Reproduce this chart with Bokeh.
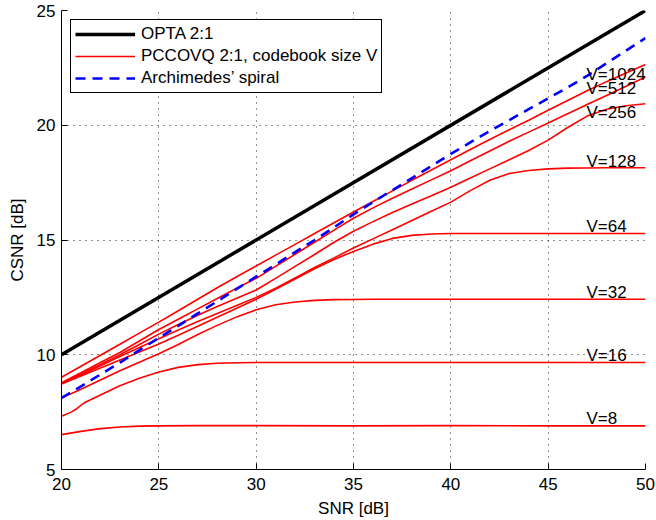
from bokeh.plotting import figure
from bokeh.models import Range1d, FixedTicker, Legend, LegendItem, ColumnDataSource, LabelSet
from bokeh.core.properties import value
from bokeh.embed import file_html
from bokeh.resources import INLINE

FONT = "Liberation Sans"

# ---------------- data ----------------
x_ticks = [20, 25, 30, 35, 40, 45, 50]
y_ticks = [5, 10, 15, 20, 25]

opta_snr = [20, 50]
opta_csnr = [10, 25]

snr = list(range(20, 51))

archimedes = [8.12, 8.62, 9.14, 9.66, 10.2, 10.73, 11.26, 11.8, 12.33, 12.87,
              13.4, 13.93, 14.47, 15.0, 15.55, 16.12, 16.65, 17.17, 17.7, 18.22,
              18.75, 19.25, 19.75, 20.22, 20.7, 21.17, 21.65, 22.15, 22.7, 23.25, 23.8]

v1024 = [9.02, 9.5, 9.98, 10.46, 10.94, 11.42, 11.92, 12.42, 12.92, 13.4,
         13.87, 14.34, 14.81, 15.28, 15.75, 16.22, 16.68, 17.14, 17.6, 18.05,
         18.5, 18.94, 19.38, 19.8, 20.22, 20.65, 21.08, 21.5, 21.9, 22.28, 22.65]

v512 = [8.78, 9.22, 9.66, 10.1, 10.6, 11.1, 11.55, 12.0, 12.45, 12.9,
        13.33, 13.85, 14.38, 14.9, 15.43, 15.95, 16.4, 16.82, 17.22, 17.62,
        18.02, 18.45, 18.88, 19.3, 19.7, 20.1, 20.5, 20.9, 21.3, 21.7, 22.1]

v256 = [8.75, 9.17, 9.58, 10.0, 10.45, 10.9, 11.32, 11.72, 12.1, 12.46,
        12.82, 13.33, 13.85, 14.37, 14.9, 15.38, 15.8, 16.2, 16.57, 16.93,
        17.3, 17.7, 18.1, 18.5, 18.9, 19.35, 19.9, 20.4, 20.7, 20.85, 20.94]

v128 = [8.73, 9.12, 9.52, 9.92, 10.32, 10.7, 11.08, 11.45, 11.8, 12.15,
        12.5, 12.9, 13.35, 13.8, 14.22, 14.65, 15.05, 15.45, 15.85, 16.25,
        16.65, 17.15, 17.6, 17.9, 18.03, 18.1, 18.13, 18.14, 18.15, 18.15, 18.15]

v64 = [8.72, 9.07, 9.42, 9.77, 10.12, 10.47, 10.85, 11.24, 11.63, 12.03,
       12.42, 12.85, 13.3, 13.75, 14.15, 14.5, 14.82, 15.07, 15.2, 15.26,
       15.28, 15.28, 15.28, 15.28, 15.28, 15.28, 15.28, 15.28, 15.28, 15.28, 15.28]

v32 = [8.12, 8.5, 8.9, 9.3, 9.67, 10.04, 10.45, 10.88, 11.28, 11.65,
       11.96, 12.18, 12.3, 12.37, 12.4, 12.41, 12.42, 12.42, 12.42, 12.42,
       12.42, 12.42, 12.42, 12.42, 12.42, 12.42, 12.42, 12.42, 12.42, 12.42, 12.42]

v16_snr = [20, 20.5, 20.8, 21.2, 22, 23, 24, 25, 26, 27, 28, 29, 30, 35, 40, 45, 50]
v16 = [7.32, 7.5, 7.66, 7.92, 8.25, 8.65, 8.98, 9.25, 9.45, 9.57, 9.63, 9.65, 9.66,
       9.66, 9.66, 9.66, 9.66]

v8_snr = [20, 21, 22, 23, 24, 25, 27, 30, 35, 40, 45, 50]
v8 = [6.52, 6.66, 6.78, 6.85, 6.89, 6.9, 6.91, 6.91, 6.9, 6.91, 6.9, 6.9]

label_text = ["V=1024", "V=512", "V=256", "V=128", "V=64", "V=32", "V=16", "V=8"]
label_x = [46.97] * 8
label_y = [21.96, 21.35, 20.31, 18.17, 15.35, 12.48, 9.74, 7.0]

# ---------------- figure ----------------
p = figure(width=656, height=520, x_range=Range1d(20, 50), y_range=Range1d(5, 25),
           output_backend="svg", toolbar_location=None,
           min_border_left=61, min_border_right=11, min_border_top=10,
           min_border_bottom=50)
p.outline_line_color = None
p.background_fill_color = "white"
p.border_fill_color = "white"

for ax, ticks in ((p.xaxis, x_ticks), (p.yaxis, y_ticks)):
    ax.ticker = FixedTicker(ticks=ticks)
    ax.major_tick_in = 6
    ax.major_tick_out = 0
    ax.minor_tick_in = 0
    ax.minor_tick_out = 0
    ax.axis_line_color = "black"
    ax.major_tick_line_color = "black"
    ax.major_label_text_font = FONT
    ax.major_label_text_font_size = "17px"
    ax.major_label_text_color = "black"
    ax.axis_label_text_font = FONT
    ax.axis_label_text_font_size = "17px"
    ax.axis_label_text_font_style = "normal"
    ax.axis_label_text_color = "black"

p.xaxis.axis_label = "SNR [dB]"
p.yaxis.axis_label = "CSNR [dB]"
p.xaxis.major_label_standoff = 8
p.xaxis.axis_label_standoff = 6
p.yaxis.major_label_standoff = 6
p.yaxis.axis_label_standoff = 7

for g in (p.xgrid, p.ygrid):
    g.grid_line_color = "black"
    g.grid_line_alpha = 0.85
    g.grid_line_dash = "1 5"
    g.grid_line_width = 1

r_opta = p.line(opta_snr, opta_csnr, line_color="black", line_width=3.5)

red_kw = dict(line_color="#ff0000", line_width=1.6)
r_reds = []
for ys in (v1024, v512, v256, v128, v64, v32):
    r_reds.append(p.line(snr, ys, **red_kw))
r_reds.append(p.line(v16_snr, v16, **red_kw))
r_reds.append(p.line(v8_snr, v8, **red_kw))

r_arch = p.line(snr, archimedes, line_color="#0000ff", line_width=2.6, line_dash="10 7")

lab_src = ColumnDataSource(dict(x=label_x, y=label_y, t=label_text))
labels = LabelSet(x="x", y="y", text="t", source=lab_src, text_font=value(FONT),
                  text_font_size=value("17px"), text_color="black",
                  text_align="left", text_baseline="alphabetic")
p.add_layout(labels)

legend = Legend(items=[
    LegendItem(label="OPTA 2:1", renderers=[r_opta]),
    LegendItem(label="PCCOVQ 2:1, codebook size V", renderers=[r_reds[0]]),
    LegendItem(label="Archimedes\u2019 spiral", renderers=[r_arch]),
], location="top_left")
legend.margin = 9
legend.padding = 4
legend.spacing = 2
legend.glyph_width = 60
legend.glyph_height = 20
legend.label_height = 20
legend.label_standoff = 6
legend.label_text_font = FONT
legend.label_text_font_size = "17px"
legend.label_text_color = "black"
legend.border_line_color = "black"
legend.border_line_width = 1
legend.border_line_alpha = 1
legend.background_fill_color = "white"
legend.background_fill_alpha = 1
p.add_layout(legend)

open("out.html", "w").write(file_html(p, INLINE))
